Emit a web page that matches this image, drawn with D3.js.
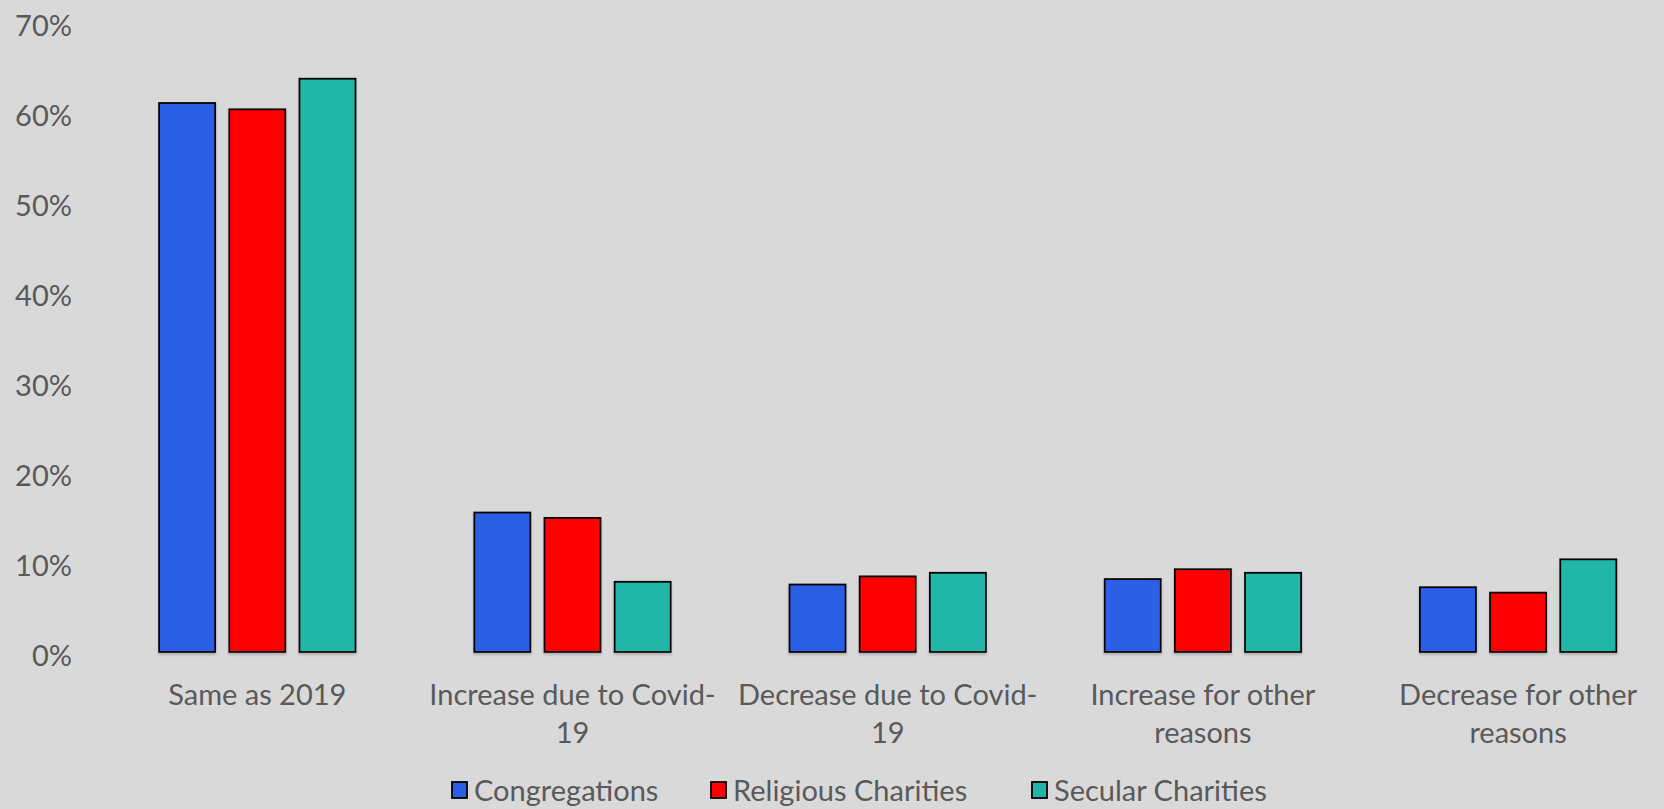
<!DOCTYPE html>
<html><head><meta charset="utf-8">
<script src="https://cdn.jsdelivr.net/npm/d3@7"></script>
<style>
html,body{margin:0;padding:0;background:#d9d9d9;overflow:hidden}
svg{display:block}
text{font-family:Lato,"Open Sans",sans-serif;fill:#595959}
</style></head>
<body>
<svg id="chart" width="1664" height="809"></svg>
<script>
const categories = ["Same as 2019","Increase due to Covid-19","Decrease due to Covid-19","Increase for other reasons","Decrease for other reasons"];
const seriesNames = ["Congregations","Religious Charities","Secular Charities"];
const congregations = [0.610, 0.155, 0.075, 0.081, 0.072];
const religiousCharities = [0.603, 0.149, 0.084, 0.092, 0.066];
const secularCharities = [0.637, 0.078, 0.088, 0.088, 0.103];
const yTicks = [0, 0.1, 0.2, 0.3, 0.4, 0.5, 0.6, 0.7];
const colors = ["#295FE6", "#FF0000", "#20B6A8"];

const seriesValues = [congregations, religiousCharities, secularCharities];
const svg = d3.select("#chart");
const W = 1664, H = 809;
svg.append("rect").attr("width", W).attr("height", H).attr("fill", "#d9d9d9");

const defs = svg.append("defs");
const f = defs.append("filter").attr("id","sh").attr("x","-10%").attr("y","-10%").attr("width","130%").attr("height","130%");
f.append("feDropShadow").attr("dx",0).attr("dy",2).attr("stdDeviation",1).attr("flood-color","#888").attr("flood-opacity",0.5);

const y = d3.scaleLinear().domain([0, 0.7]).range([652, 22]);
const x0 = d3.scaleBand().domain(categories).range([99.7, 1675.7]).paddingInner(0).paddingOuter(0);
const groupW = 196.5;
const x1 = d3.scaleBand().domain(seriesNames).range([(x0.bandwidth()-groupW)/2, (x0.bandwidth()+groupW)/2]).paddingInner(0.2).paddingOuter(0);

const fontSize = 29;

// y axis
const yAxis = d3.axisLeft(y).tickValues(yTicks).tickFormat(d3.format(".0%")).tickSize(0).tickPadding(0);
const ya = svg.append("g").attr("transform", "translate(72,3)").call(yAxis);
ya.select(".domain").remove();
ya.selectAll("text").attr("font-size", fontSize).attr("font-family", "Lato").attr("fill", "#595959").attr("dy", "0.36em");

// bars
const groups = svg.append("g").selectAll("g").data(categories).join("g")
  .attr("transform", d => `translate(${x0(d)},0)`);
groups.selectAll("rect").data((c, i) => seriesNames.map((s, j) => ({s, j, v: seriesValues[j][i]})))
  .join("rect")
  .attr("x", d => x1(d.s))
  .attr("y", d => y(d.v))
  .attr("width", x1.bandwidth())
  .attr("height", d => y(0) - y(d.v))
  .attr("fill", d => colors[d.j])
  .attr("stroke", "#000")
  .attr("stroke-width", 1.8)
  .attr("filter", "url(#sh)");

// x axis labels with wrapping
const xAxis = d3.axisBottom(x0).tickSize(0).tickPadding(0);
const xa = svg.append("g").attr("transform", "translate(0,652)").call(xAxis);
xa.select(".domain").remove();
xa.selectAll("text").attr("font-size", fontSize).attr("font-family", "Lato").attr("fill", "#595959")
  .attr("y", 0).attr("dy", 0)
  .each(function(d){
    const t = d3.select(this);
    const maxW = 300;
    const words = d.split(" ");
    const tokens = [];
    words.forEach((w, i) => {
      const parts = w.split(/(?<=-)/);
      parts.forEach((p, k) => tokens.push({text: p, space: k === parts.length - 1 && i < words.length - 1}));
    });
    t.text(null);
    const lines = [];
    let cur = "";
    const measure = s => { t.text(s); return this.getComputedTextLength(); };
    tokens.forEach(tok => {
      const trial = cur + tok.text;
      if (cur !== "" && measure(trial.trimEnd()) > maxW) {
        lines.push(cur.trimEnd());
        cur = tok.text + (tok.space ? " " : "");
      } else {
        cur = trial + (tok.space ? " " : "");
      }
    });
    lines.push(cur.trimEnd());
    t.text(null);
    lines.forEach((ln, i) => {
      t.append("tspan").attr("x", 0).attr("y", 53 + i * 37.5).text(ln);
    });
  });

// legend
const legendX = [452, 711, 1032];
const lg = svg.append("g");
seriesNames.forEach((s, j) => {
  const g = lg.append("g").attr("transform", `translate(${legendX[j]},782)`);
  g.append("rect").attr("x", 0).attr("y", 0).attr("width", 15).attr("height", 16)
    .attr("fill", colors[j]).attr("stroke", "#000").attr("stroke-width", 1.8);
  g.append("text").attr("x", 22).attr("y", 9).attr("dy", "0.36em")
    .attr("font-size", fontSize).text(s);
});
</script>
</body></html>
